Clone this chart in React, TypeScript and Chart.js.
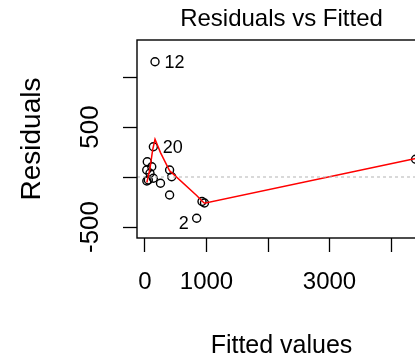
import { useEffect, useRef } from 'react';
import { Chart, registerables } from 'chart.js';

Chart.register(...registerables);

// Fitted values and residuals of the model (one entry per observation)
const fittedValues = [163, 136, 37, 110, 28, 81, 54, 136, 252, 30, 400, 434, 400, 927, 967, 840, 4400];
const residualValues = [1153, 303, 153, 103, 70, 37, -30, -13, -63, -40, 70, 3, -180, -245, -260, -413, 177];

// Observations flagged with their ids
const flaggedIndex = [0, 1, 15];
const flaggedIds = ['12', '20', '2'];

// Scatterplot smoother through the residuals
const smoothX = [30, 81, 125, 163, 252, 400, 434, 840, 927, 967, 4400];
const smoothY = [-55, 84, 274, 377, 244, 62, 44, -185, -240, -262, 185];

// Axis ticks and the labels printed beside them
const xTickValues = [0, 1000, 2000, 3000, 4000];
const xTickLabels = ['0', '1000', '', '3000', ''];
const yTickValues = [-500, 0, 500, 1000];
const yTickLabels = ['-500', '', '500', ''];

const FONT = '"Liberation Sans", Arial, Helvetica, sans-serif';

const framePlugin = {
  id: 'frame',
  afterDatasetsDraw(chart: any) {
    const { ctx, chartArea: a, scales } = chart;
    const x = scales.x;
    const y = scales.y;
    ctx.save();

    // dotted reference line at zero residual
    const y0 = y.getPixelForValue(0);
    ctx.beginPath();
    ctx.rect(a.left, a.top, a.right - a.left, a.bottom - a.top);
    ctx.clip();
    ctx.setLineDash([3, 3]);
    ctx.strokeStyle = '#b4b4b4';
    ctx.lineWidth = 1;
    ctx.beginPath();
    ctx.moveTo(a.left, y0);
    ctx.lineTo(a.right, y0);
    ctx.stroke();
    ctx.setLineDash([]);

    // ids of the largest residuals
    ctx.fillStyle = '#000';
    ctx.font = `18px ${FONT}`;
    ctx.textBaseline = 'middle';
    flaggedIndex.forEach((idx, k) => {
      const px = x.getPixelForValue(fittedValues[idx]);
      const py = y.getPixelForValue(residualValues[idx]);
      if (fittedValues[idx] > 500) {
        ctx.textAlign = 'right';
        ctx.fillText(flaggedIds[k], px - 8, py + 6);
      } else {
        ctx.textAlign = 'left';
        ctx.fillText(flaggedIds[k], px + 9.5, py + 1);
      }
    });
    ctx.restore();

    // plot box
    ctx.save();
    ctx.strokeStyle = '#000';
    ctx.lineWidth = 1.4;
    ctx.strokeRect(a.left, a.top, a.right - a.left, a.bottom - a.top);
    ctx.restore();
  },
};

export default function App() {
  const canvasRef = useRef<HTMLCanvasElement>(null);

  useEffect(() => {
    const canvas = canvasRef.current;
    if (!canvas) return;

    const chart = new Chart(canvas, {
      type: 'scatter',
      data: {
        datasets: [
          {
            type: 'line',
            label: 'smooth',
            data: smoothX.map((v, i) => ({ x: v, y: smoothY[i] })),
            borderColor: '#ff0000',
            borderWidth: 1.5,
            pointRadius: 0,
            fill: false,
            tension: 0,
            order: 0,
          },
          {
            type: 'scatter',
            label: 'residuals',
            data: fittedValues.map((v, i) => ({ x: v, y: residualValues[i] })),
            pointStyle: 'circle',
            pointRadius: 4,
            borderColor: '#000',
            backgroundColor: 'rgba(0,0,0,0)',
            borderWidth: 1.4,
            order: 1,
          },
        ],
      },
      options: {
        responsive: false,
        devicePixelRatio: 1,
        animation: false,
        layout: { padding: { left: 0, top: 0, right: 14, bottom: 0 } },
        plugins: {
          legend: { display: false },
          tooltip: { enabled: false },
          title: {
            display: true,
            text: 'Residuals vs Fitted',
            fullSize: false,
            color: '#000',
            font: { family: FONT, size: 24, weight: 'normal', lineHeight: 1 },
            padding: { top: 7, bottom: 9 },
          },
        },
        scales: {
          x: {
            type: 'linear',
            position: 'bottom',
            min: -130,
            max: 4569,
            afterBuildTicks: (s: any) => {
              s.ticks = xTickValues.map((v) => ({ value: v }));
            },
            afterFit: (s: any) => {
              s.height = 123;
            },
            ticks: {
              callback: (_v: any, i: number) => xTickLabels[i],
              color: '#000',
              font: { family: FONT, size: 24, lineHeight: 1 },
              padding: 18,
              maxRotation: 0,
              autoSkip: false,
            },
            grid: {
              drawOnChartArea: false,
              drawTicks: true,
              tickLength: 14,
              tickColor: '#000',
              tickWidth: 1.3,
            },
            border: { display: false },
            title: {
              display: true,
              text: 'Fitted values',
              color: '#000',
              font: { family: FONT, size: 25, lineHeight: 1 },
              padding: { top: 0, bottom: 2 },
            },
          },
          y: {
            type: 'linear',
            position: 'left',
            min: -610,
            max: 1370,
            afterBuildTicks: (s: any) => {
              s.ticks = yTickValues.map((v) => ({ value: v }));
            },
            afterFit: (s: any) => {
              s.width = 137;
            },
            ticks: {
              callback: (_v: any, i: number) => yTickLabels[i],
              color: '#000',
              font: { family: FONT, size: 26, lineHeight: 1 },
              padding: 6,
              minRotation: 90,
              maxRotation: 90,
              crossAlign: 'center',
              autoSkip: false,
            },
            grid: {
              drawOnChartArea: false,
              drawTicks: true,
              tickLength: 14,
              tickColor: '#000',
              tickWidth: 1.3,
            },
            border: { display: false },
            title: {
              display: true,
              text: 'Residuals',
              color: '#000',
              font: { family: FONT, size: 28, lineHeight: 1 },
              padding: { top: 18, bottom: 0 },
            },
          },
        },
      },
      plugins: [framePlugin],
    } as any);

    return () => chart.destroy();
  }, []);

  return (
    <div
      style={{
        position: 'fixed',
        left: 0,
        top: 0,
        width: 415,
        height: 361,
        overflow: 'hidden',
        background: '#fff',
      }}
    >
      <canvas ref={canvasRef} width={440} height={361} style={{ display: 'block', width: 440, height: 361 }} />
    </div>
  );
}
